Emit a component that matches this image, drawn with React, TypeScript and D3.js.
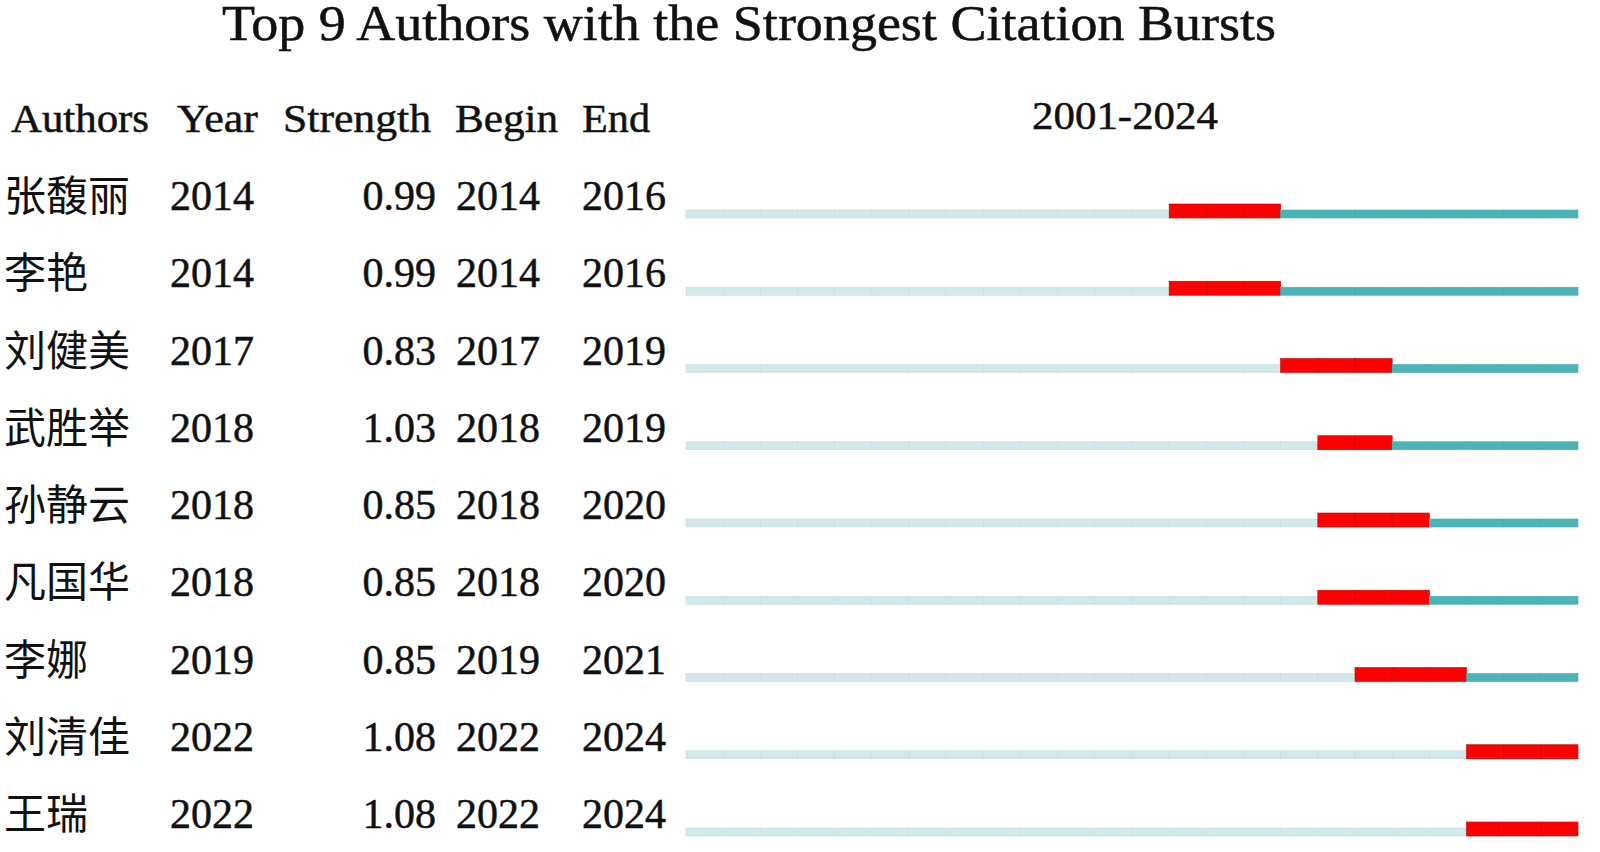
import React from "react";
import * as d3 from "d3";

const authors = ["张馥丽", "李艳", "刘健美", "武胜举", "孙静云", "凡国华", "李娜", "刘清佳", "王瑞"];
const years = [2014, 2014, 2017, 2018, 2018, 2018, 2019, 2022, 2022];
const strengths = [0.99, 0.99, 0.83, 1.03, 0.85, 0.85, 0.85, 1.08, 1.08];
const begins = [2014, 2014, 2017, 2018, 2018, 2018, 2019, 2022, 2022];
const ends = [2016, 2016, 2019, 2019, 2020, 2020, 2021, 2024, 2024];
const headers = ["Authors", "Year", "Strength", "Begin", "End"];
const timeline = d3.range(2001, 2025);

const W = 1600;
const H = 852;
const serif = "'Liberation Serif', 'Times New Roman', serif";
const cjk = "'Noto Sans CJK SC', sans-serif";

export default function App() {
  const x = d3.scaleBand<number>().domain(timeline).range([686, 1578]).padding(0);
  const rowY = d3.scaleLinear().domain([0, 8]).range([210, 828]);

  const cellColor = (i: number, yr: number) => {
    if (yr < begins[i]) return "#d2e9eb";
    if (yr <= ends[i]) return "#ff0000";
    return "#4bb4b7";
  };

  // text is drawn a bit heavier, like the scanned original
  const ink = { fill: "#111", stroke: "#111", strokeWidth: 0.5 };

  return (
    <svg width={W} height={H} style={{ position: "absolute", left: 0, top: 0, background: "#fff" }}>
      <text x={222} y={40} fontFamily={serif} fontSize={50} textLength={1054} lengthAdjust="spacingAndGlyphs" {...ink}>
        Top 9 Authors with the Strongest Citation Bursts
      </text>

      {/* header row */}
      <g fontFamily={serif} fontSize={41} {...ink}>
        <text x={11} y={132} textLength={138} lengthAdjust="spacingAndGlyphs">{headers[0]}</text>
        <text x={177} y={132} textLength={81} lengthAdjust="spacingAndGlyphs">{headers[1]}</text>
        <text x={283} y={132} textLength={148} lengthAdjust="spacingAndGlyphs">{headers[2]}</text>
        <text x={455} y={132} textLength={103} lengthAdjust="spacingAndGlyphs">{headers[3]}</text>
        <text x={582} y={132} textLength={68} lengthAdjust="spacingAndGlyphs">{headers[4]}</text>
        <text x={1032} y={129} textLength={186} lengthAdjust="spacingAndGlyphs">
          {`${timeline[0]}-${timeline[timeline.length - 1]}`}
        </text>
      </g>

      {authors.map((a, i) => {
        const y = rowY(i);
        const barBottom = y + 8;
        return (
          <g key={a}>
            <text x={4} y={y + 1} fontFamily={cjk} fontSize={42} fill="#111">{a}</text>
            <g fontFamily={serif} fontSize={42} {...ink}>
              <text x={170} y={y}>{years[i]}</text>
              <text x={436} y={y} textAnchor="end">{strengths[i].toFixed(2)}</text>
              <text x={456} y={y}>{begins[i]}</text>
              <text x={582} y={y}>{ends[i]}</text>
            </g>
            {timeline.map((yr) => {
              const burst = yr >= begins[i] && yr <= ends[i];
              const h = burst ? 14 : 8;
              const c = cellColor(i, yr);
              return (
                <rect
                  key={yr}
                  x={x(yr)}
                  y={barBottom - h}
                  width={x.bandwidth()}
                  height={h}
                  fill={c}
                  stroke={burst ? "#c00000" : d3.color(c)!.darker(0.15).toString()}
                  strokeWidth={0.6}
                />
              );
            })}
          </g>
        );
      })}
    </svg>
  );
}
